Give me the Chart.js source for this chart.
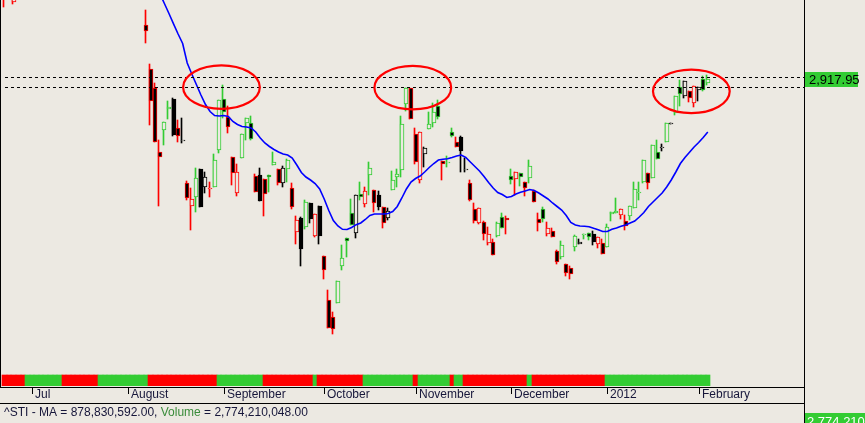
<!DOCTYPE html>
<html>
<head>
<meta charset="utf-8">
<script src="https://cdn.jsdelivr.net/npm/chart.js@4.4.1/dist/chart.umd.min.js"></script>
<style>
  html, body { margin: 0; padding: 0; background: #ece9e2; }
  #wrap { width: 865px; height: 423px; }
  canvas { display: block; }
</style>
</head>
<body>
<div id="wrap"><canvas id="stiChart" width="865" height="423"></canvas></div>
<script>
// x = trading day index, 0 = 1 Jul 2011
const monthDays  = [0, 21, 42, 64, 84, 105, 126, 146];
const monthNames = ["Jul", "August", "September", "October", "November", "December", "2012", "February"];

// ^STI daily candles (two partly visible late-June bars, then 5 Aug 2011 .. 3 Feb 2012)
const candleDays = [-6, -4];
for (let d = 25; d <= 148; d++) candleDays.push(d);

const opens = [3069, 3041.8,
  3005, 2934.6, 2903.7, 2802.3, 2837, 2870.1, 2886.6, 2839.7, 2821, 2752.2,
  2715.4, 2729.3, 2774.6, 2746.3, 2743.7, 2746.3, 2805, 2886.6, 2857.3, 2793.3,
  2736.7, 2791.7, 2848.2, 2847.7, 2763.4, 2765, 2758.1, 2764.5, 2780.5, 2774.1,
  2751.7, 2774.1, 2743.7, 2673.3, 2695.7, 2681.3, 2719.7, 2667.9, 2715.4, 2635.4,
  2565, 2537.3, 2559.7, 2619.9, 2663.7, 2703.7, 2672.7, 2734.1, 2718.1, 2764.5,
  2741, 2733, 2713.3, 2695.7, 2741, 2761.3, 2773, 2878.1, 2903.7, 2830.1,
  2757, 2798.1, 2838.1, 2847.7, 2875.9, 2786.9, 2786.6, 2833.3, 2818.3, 2825.8,
  2774.1, 2751.7, 2710.1, 2688.7, 2689.3, 2655.7, 2657.3, 2667.4, 2698.3, 2696.7,
  2763.9, 2759.1, 2767.7, 2753.3, 2759.7, 2739.4, 2694.1, 2710.1, 2670.1, 2674.9,
  2642.9, 2634.3, 2622.1, 2615.7, 2649.3, 2654.1, 2670.6, 2671.7, 2670.6, 2654.1,
  2655.7, 2650.3, 2702.1, 2703.7, 2701, 2691.4, 2699.9, 2711.7, 2735.7, 2754.3,
  2767.7, 2760.7, 2801.3, 2809.3, 2818.3, 2848.2, 2863.7, 2906.3, 2891.1, 2900.2,
  2879.7, 2901, 2918.1, 2911.7];

const highs = [3085, 3064.2,
  3029, 2942.6, 2912.2, 2821, 2849.8, 2883.4, 2887.7, 2853, 2856.2, 2755.4,
  2744.2, 2776.2, 2774.6, 2769.8, 2754.3, 2798.6, 2885, 2909, 2875.4, 2793.3,
  2782.6, 2830.1, 2856.2, 2859.4, 2766.6, 2776.2, 2758.1, 2764.5, 2801.8, 2774.1,
  2779.4, 2790.6, 2751.7, 2699.4, 2698.3, 2725, 2719.7, 2702.1, 2715.4, 2635.4,
  2581, 2546.3, 2595.4, 2653, 2663.7, 2726.6, 2732.5, 2753.8, 2745.3, 2786.3,
  2741, 2739.4, 2713.3, 2711.7, 2771.9, 2774.6, 2859.4, 2904.7, 2905, 2839.7,
  2833.3, 2809.8, 2866.3, 2879.7, 2885, 2786.9, 2794.9, 2839.7, 2826.3, 2827.4,
  2793, 2757, 2719.7, 2711.7, 2691.4, 2681.3, 2662.1, 2690.3, 2703.7, 2699.4,
  2774.1, 2769.3, 2767.7, 2753.3, 2789, 2741, 2703.7, 2714.3, 2689.3, 2679.7,
  2645, 2659.4, 2622.1, 2619.4, 2669, 2662.6, 2670.6, 2672.7, 2675.4, 2665.3,
  2662.1, 2686.6, 2706.3, 2728.7, 2710.1, 2701, 2715.4, 2754.3, 2754.3, 2789,
  2767.7, 2813, 2821, 2814.6, 2848.7, 2848.2, 2891.4, 2917, 2916.2, 2900.2,
  2907.4, 2905.3, 2924.2, 2925];

const lows = [3034.3, 3038.6,
  2976.7, 2845, 2817.8, 2716.2, 2813, 2855.1, 2827.4, 2818.3, 2815.7, 2725,
  2677, 2706.3, 2714.3, 2736.7, 2730.3, 2746.3, 2800.7, 2855.7, 2831.7, 2749,
  2731.4, 2791.7, 2821, 2821, 2738.3, 2723.9, 2699.4, 2738.3, 2780.5, 2749,
  2746.3, 2754.3, 2710.1, 2654.1, 2619.9, 2678.1, 2687.7, 2665.3, 2654.1, 2598.1,
  2519.7, 2510.6, 2559.7, 2613, 2634.3, 2685.5, 2664.7, 2725, 2714.3, 2732.5,
  2706.3, 2709, 2679.7, 2693, 2741, 2746.3, 2762.3, 2867.4, 2854.1, 2782.6,
  2751.4, 2778.3, 2838.1, 2842.3, 2854.1, 2757, 2778.3, 2826.3, 2809.3, 2770.3,
  2770.3, 2723.9, 2688.7, 2686.1, 2661, 2653, 2636.5, 2665.3, 2679.7, 2670.6,
  2750.6, 2733, 2747.4, 2731.9, 2752.7, 2722.3, 2675.9, 2690.3, 2667.4, 2665.3,
  2622.6, 2630.6, 2603.9, 2598.6, 2643.9, 2654.1, 2662.6, 2661, 2653, 2648.7,
  2638.1, 2650.3, 2691.4, 2703.7, 2695.1, 2677, 2693, 2711.7, 2725, 2751.7,
  2742.6, 2760.7, 2791.1, 2803.9, 2818.3, 2848.2, 2861, 2876.2, 2887.7, 2882.3,
  2874.3, 2884.2, 2899.9, 2909];

const closes = [3053, 3054.6,
  2995.9, 2883.4, 2818.3, 2793.3, 2849.8, 2873.8, 2829, 2827.4, 2821, 2728.2,
  2726.6, 2760.7, 2714.3, 2761.8, 2743.7, 2789, 2885, 2865.3, 2841.3, 2768.7,
  2770.3, 2830.1, 2856.2, 2822.1, 2738.3, 2723.9, 2734.1, 2761.3, 2785.3, 2752.7,
  2776.7, 2789, 2714.3, 2693, 2646.1, 2721.3, 2695.1, 2702.1, 2667.9, 2613,
  2519.7, 2518.1, 2595.4, 2631.7, 2659.9, 2685.5, 2732.5, 2729.3, 2739.4, 2775.7,
  2719.7, 2714.3, 2687.7, 2707.4, 2756.5, 2766.6, 2846.6, 2904.7, 2854.1, 2785.3,
  2833.3, 2807.7, 2846.6, 2865.3, 2857.3, 2783.1, 2786.6, 2828.2, 2809.3, 2803.9,
  2774.1, 2725, 2691.9, 2711.7, 2670.1, 2670.1, 2636.5, 2687.7, 2680.7, 2693,
  2757, 2769.3, 2761.3, 2744.7, 2779.4, 2722.3, 2687.7, 2695.1, 2679.7, 2665.3,
  2626.3, 2653, 2608.7, 2606.1, 2667.4, 2658.3, 2670.6, 2666.3, 2658.3, 2665.3,
  2638.1, 2681.3, 2706.3, 2707.4, 2710.1, 2683.9, 2715.4, 2742.1, 2738.3, 2789,
  2751.7, 2813, 2791.1, 2809.3, 2848.7, 2848.2, 2891.4, 2894.1, 2916.2, 2887.7,
  2906.9, 2905.3, 2901, 2917.95];

// outline colour of each candle: g = green, r = red, k = black
const tones = ["r", "r",
  "r","r","r","r","g","g","k","r","k","r",
  "r","g","k","k","r","g","g","g","r","r",
  "r","g","g","g","r","k","r","g","g","r",
  "k","g","r","r","k","g","k","r","k","r",
  "r","r","g","g","g","g","k","g","r","g",
  "r","k","r","k","g","g","g","g","r","r",
  "r","k","g","g","g","r","g","g","r","k",
  "k","r","r","r","r","r","r","g","g","r",
  "g","r","g","r","g","r","r","g","r","r",
  "r","g","r","r","g","k","g","g","k","r",
  "r","g","g","g","r","r","g","g","g","g",
  "r","g","g","k","g","k","g","g","k","r",
  "r","k","g","g"];

// moving average, from day 25
const maStart = 25;
const maValues = [
  3105.8, 3088.2, 3072.2, 3055.4, 3039.4, 3023.4, 3006.9, 2990.6, 2975.4, 2944.2,
  2926.6, 2909.8, 2893, 2877.8, 2866.6, 2860.2, 2859.4, 2860.2, 2858.6, 2850.6,
  2845.8, 2842.6, 2841.8, 2840.2, 2833.8, 2824.2, 2816.2, 2810.6, 2805.8, 2801.8,
  2798.6, 2797, 2792.2, 2781, 2769, 2761.8, 2757, 2751.4, 2742.6, 2726.6,
  2708.2, 2692.2, 2683.4, 2678.1, 2677.8, 2681, 2685.5, 2688.2, 2693.8, 2700.2,
  2702.6, 2702.6, 2702.6, 2703.4, 2706.6, 2714.6, 2728.2, 2742.6, 2753.8, 2759.4,
  2763.4, 2769.8, 2777, 2783.4, 2789, 2790.1, 2790.9, 2793, 2795.4, 2797,
  2793, 2785.8, 2778.6, 2771.4, 2762.6, 2753, 2744.2, 2737, 2733.8, 2729,
  2730.6, 2734.6, 2737.3, 2739.4, 2741.8, 2740.2, 2736.2, 2731.4, 2726.6, 2720.2,
  2714.6, 2709, 2700.2, 2689, 2685, 2683.4, 2682.9, 2682.3, 2679.7, 2677.5,
  2674.6, 2674.6, 2678.1, 2680.2, 2682.9, 2685, 2688.2, 2691.4, 2697.8, 2705,
  2714.6, 2721.8, 2729, 2736.2, 2745.8, 2757, 2769.8, 2783.4, 2793, 2801.3,
  2809.8, 2817, 2825, 2833.8];

// red / green state strip under the price panel, as runs from day -6
const stripStart = -6;
const stripTone = ["r","g","r","g","r","g","r","g","r","g","r","g","r","g","r","g","r","g"];
const stripLen  = [ 5,  8,  8, 11, 15, 10, 11,  1, 10, 11,  1,  7,  1,  2, 14,  1, 16, 23];

// hand drawn resistance lines and circled tops
const levels = [2921.3, 2905.3];
const levelFrom = -6;
const circleDay   = [41.5, 83.4, 144.4];
const circlePrice = [2905.5, 2904.7, 2898.9];
const circleHalfDays = 8.4;
const circleHalfPts  = 34.8;

const maText = "878,830,592.00";
const volumeText = "2,774,210,048.00";
const volumePanelText = "2,774,210";

const GREEN = "#33cc33", RED = "#ff0000", BLACK = "#000000", BG = "#ece9e2";
const toneColor = { g: GREEN, r: RED, k: BLACK };

const edgeColors = tones.map(t => toneColor[t]);
const bodyFill = candleDays.map((d, i) => closes[i] < opens[i] ? BLACK : BG);
const wickData = candleDays.map((d, i) => ({ x: d, y: [lows[i], highs[i]] }));
const bodyData = candleDays.map((d, i) => ({ x: d, y: [opens[i], closes[i]] }));
const maData = maValues.map((v, i) => ({ x: maStart + i, y: v }));

const stripData = [], stripColors = [];
let sd = stripStart;
stripTone.forEach((t, i) => {
  for (let k = 0; k < stripLen[i]; k++) {
    stripData.push({ x: sd++, y: [0, 1] });
    stripColors.push(toneColor[t]);
  }
});

// snap bars to whole pixels so candles stay crisp like the original
const snapBars = {
  id: "snapBars",
  beforeDatasetsDraw(chart) {
    const xs = chart.scales.x;
    chart.data.datasets.forEach((ds, di) => {
      const meta = chart.getDatasetMeta(di);
      if (meta.type !== "bar") return;
      meta.data.forEach((el, j) => {
        let top = Math.round(Math.min(el.y, el.base));
        let bot = Math.round(Math.max(el.y, el.base));
        if (bot <= top) bot = top + 1;
        el.y = top;
        el.base = bot;
        if (ds.label === "strip") {
          const d = ds.data[j].x;
          const l = Math.round(xs.getPixelForValue(d - 0.5));
          const r = Math.round(xs.getPixelForValue(d + 0.5));
          el.x = (l + r) / 2;
          el.width = r - l;
        } else if (ds.label === "wick") {
          el.x = Math.round(el.x - 0.5) - 0.5;
        } else {
          el.x = Math.round(el.x);
        }
      });
    });
  }
};

const overlay = {
  id: "overlay",
  afterDatasetsDraw(chart) {
    const { ctx, chartArea: a, scales: { x, y } } = chart;
    ctx.save();
    ctx.strokeStyle = BLACK;
    ctx.lineWidth = 1;
    ctx.setLineDash([3, 3]);
    levels.forEach(v => {
      const py = Math.round(y.getPixelForValue(v)) + 0.5;
      ctx.beginPath();
      ctx.moveTo(Math.round(x.getPixelForValue(levelFrom)), py);
      ctx.lineTo(a.right, py);
      ctx.stroke();
    });
    ctx.setLineDash([]);

    ctx.strokeStyle = RED;
    ctx.lineWidth = 2.2;
    circleDay.forEach((d, i) => {
      const cx = x.getPixelForValue(d);
      const cy = y.getPixelForValue(circlePrice[i]);
      const rx = x.getPixelForValue(d + circleHalfDays) - cx;
      const ry = y.getPixelForValue(circlePrice[i] - circleHalfPts) - cy;
      ctx.beginPath();
      ctx.ellipse(cx, cy, rx, ry, 0, 0, Math.PI * 2);
      ctx.stroke();
    });
    ctx.restore();
  },
  afterDraw(chart) {
    const { ctx, chartArea: a, scales: { x, y } } = chart;
    const W = chart.width, H = chart.height;
    ctx.save();
    ctx.fillStyle = BLACK;
    ctx.fillRect(0, 0, 1, a.bottom + 1);              // left frame
    ctx.fillRect(a.right, 0, 1, H);                   // right frame
    ctx.fillRect(0, a.bottom + 1, a.right, 1);        // under strip
    ctx.fillRect(0, a.bottom + 17, a.right, 1);       // under dates

    // month ticks and labels
    ctx.font = '12px "Liberation Sans", Arial, sans-serif';
    ctx.textBaseline = "alphabetic";
    monthDays.forEach((d, i) => {
      const px = Math.round(x.getPixelForValue(d));
      ctx.fillStyle = BLACK;
      ctx.fillRect(px, a.bottom + 2, 1, 6);
      ctx.fillStyle = "#16163a";
      ctx.fillText(monthNames[i], px + 3, a.bottom + 12);
    });

    // indicator read-out line
    let tx = 4;
    const ty = a.bottom + 30;
    const parts = [["^STI - MA = " + maText + ", ", "#16163a"], ["Volume", "#3a8c3a"], [" = " + volumeText, "#16163a"]];
    parts.forEach(([s, c]) => {
      ctx.fillStyle = c;
      ctx.fillText(s, tx, ty);
      tx += ctx.measureText(s).width;
    });

    // last price marker
    const last = closes[closes.length - 1];
    const cy = Math.round(y.getPixelForValue(last));
    ctx.fillStyle = GREEN;
    ctx.fillRect(a.right + 1, cy - 7, 53, 15);
    ctx.fillStyle = BLACK;
    ctx.font = '13px "Liberation Sans", Arial, sans-serif';
    ctx.fillText(last.toLocaleString("en-US", { minimumFractionDigits: 2 }), a.right + 5, cy + 5);

    // top of the (cut off) volume panel
    ctx.fillStyle = GREEN;
    ctx.fillRect(a.right + 1, a.bottom + 27, W - a.right - 1, H - a.bottom - 27);
    ctx.fillStyle = "#ffffff";
    ctx.fillText(volumePanelText, a.right + 3, a.bottom + 40);
    ctx.restore();
  }
};

new Chart(document.getElementById("stiChart"), {
  type: "bar",
  data: {
    datasets: [
      { type: "line", label: "MA", data: maData, borderColor: "#0000ff", borderWidth: 1.6,
        pointRadius: 0, tension: 0, order: 0, yAxisID: "y" },
      { label: "body", data: bodyData, backgroundColor: bodyFill, borderColor: edgeColors,
        borderWidth: 1, borderSkipped: false, barThickness: 4, grouped: false, order: 1, yAxisID: "y" },
      { label: "wick", data: wickData, backgroundColor: edgeColors, borderWidth: 0,
        barThickness: 1, grouped: false, order: 2, yAxisID: "y" },
      { label: "strip", data: stripData, backgroundColor: stripColors, borderWidth: 0,
        barThickness: 5, grouped: false, order: 3, yAxisID: "ys" }
    ]
  },
  options: {
    responsive: false,
    animation: false,
    devicePixelRatio: 1,
    layout: { padding: { left: 0, right: 61, top: 0, bottom: 37 } },
    plugins: { legend: { display: false }, tooltip: { enabled: false } },
    scales: {
      x: { type: "linear", min: -7, max: 169.07, offset: false, display: false },
      y: { min: 2427.4, max: 3045, display: false },
      ys: { min: 0, max: 35.09, display: false }
    }
  },
  plugins: [snapBars, overlay]
});
</script>
</body>
</html>
